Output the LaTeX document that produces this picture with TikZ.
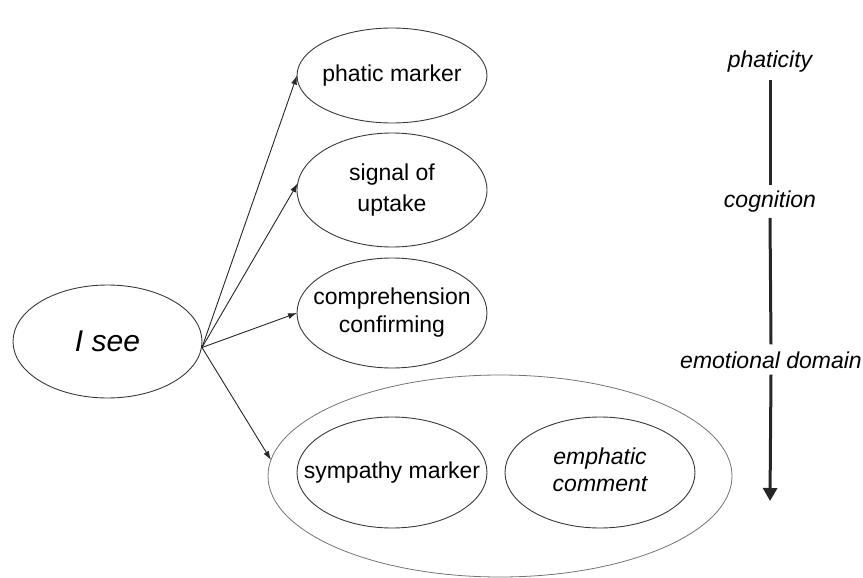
\documentclass[tikz,border=0pt]{standalone}
\usepackage{fontspec}
\setmainfont{Liberation Sans}
\usetikzlibrary{shapes.geometric,arrows.meta}
\newcommand{\zw}[1]{\makebox[0pt]{#1}}
\begin{document}
\begin{tikzpicture}[x=1pt,y=-1pt,
  ell/.style={ellipse,draw=black!78,line width=0.9pt,inner sep=0pt,outer sep=0pt},
  lbl/.style={font=\fontsize{23}{28}\selectfont},
  conn/.style={draw=black!85,line width=0.9pt,-{Latex[length=9pt,width=6pt]}},
  axlbl/.style={font=\fontsize{23}{28}\selectfont\itshape,inner sep=3pt},
  axis/.style={draw=black!85,line width=3pt}]
\useasboundingbox (0,0) rectangle (863,578);
% main node
\node[ell,minimum width=189pt,minimum height=113pt,font=\fontsize{30}{34}\selectfont\itshape] (isee) at (107.5,341.5) {\zw{I see}};
% category ellipses
\node[ell,lbl,minimum width=190pt,minimum height=95pt] (ph) at (392,75.5) {\zw{phatic marker}};
\node[ell,lbl,minimum width=190pt,minimum height=114pt] (sig) at (392,190) {\zw{\begin{tabular}{@{}c@{}}signal of\\[3pt]uptake\end{tabular}}};
\node[ell,lbl,minimum width=190pt,minimum height=110pt] (comp) at (392,313) {\zw{\begin{tabular}{@{}c@{}}comprehension\\confirming\end{tabular}}};
\node[ell,draw=black!55,line width=0.8pt,minimum width=464pt,minimum height=202pt] (outer) at (500,476) {};
\node[ell,lbl,minimum width=190pt,minimum height=111pt] (sym) at (392,472.5) {\zw{sympathy marker}};
\node[ell,lbl,minimum width=190pt,minimum height=111pt,font=\fontsize{23}{27}\selectfont\itshape] (emp) at (600,472.5) {\zw{\begin{tabular}{@{}c@{}}emphatic\\comment\end{tabular}}};
% connectors
\coordinate (o) at ([yshift=-6pt]isee.east);
\draw[conn] (o) -- (ph.west);
\draw[conn] (o) -- (sig.176);
\draw[conn] (o) -- (comp.west);
\draw[conn] (o) -- (outer.176);
% scale on the right
\node[axlbl] (phat) at (770,62) {phaticity};
\node[axlbl] (cog) at (770,202) {cognition};
\node[axlbl] (emo) at (771,360) {emotional domain};
\coordinate (axend) at (770,501);
\draw[axis] ([yshift=-4pt]phat.south) -- ([yshift=3pt]cog.north);
\draw[axis] ([yshift=-2pt]cog.south) -- ([yshift=4pt]emo.north);
\draw[axis,-{Triangle[length=13pt,width=14pt]}] ([yshift=-3pt]emo.south) -- (axend);
\end{tikzpicture}
\end{document}
